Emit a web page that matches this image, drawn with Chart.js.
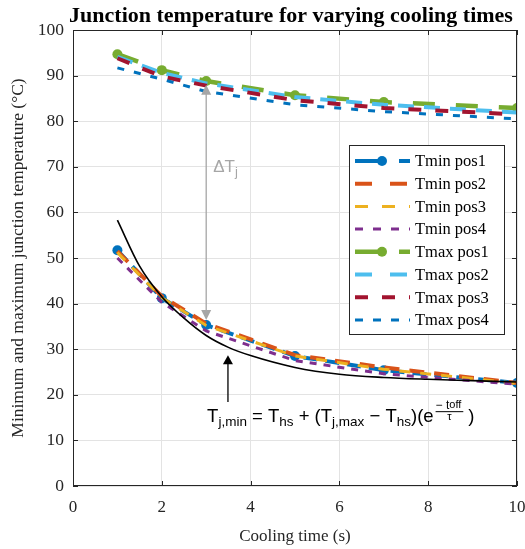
<!DOCTYPE html>
<html>
<head>
<meta charset="utf-8">
<script src="https://cdn.jsdelivr.net/npm/chart.js@4.4.1/dist/chart.umd.min.js"></script>
<style>
  html, body { margin: 0; padding: 0; background: #fff; }
  #wrap { width: 525px; height: 549px; }
</style>
</head>
<body>
<div id="wrap"><canvas id="tjChart"></canvas></div>
<script>
// cooling times where temperatures were evaluated (s)
const coolingTimes = [1, 2, 3, 5, 7, 10];

const tminPos1 = [51.7, 41.2, 35.3, 28.5, 25.4, 22.6];
const tminPos2 = [51.5, 41.6, 35.6, 28.7, 26.0, 22.6];
const tminPos3 = [51.2, 41.3, 35.2, 28.5, 25.6, 22.5];
const tminPos4 = [50.0, 40.3, 34.0, 27.5, 24.6, 22.3];

const tmaxPos1 = [94.7, 91.2, 88.8, 85.7, 84.2, 82.9];
const tmaxPos2 = [94.1, 90.6, 88.3, 85.3, 83.6, 81.9];
const tmaxPos3 = [93.8, 89.8, 87.8, 84.6, 82.9, 81.5];
const tmaxPos4 = [91.7, 89.2, 86.5, 83.6, 82.1, 80.5];

// fitted exponential curve
const fitTimes = [1, 1.5, 2, 2.5, 3, 3.5, 4, 5, 6, 7, 8, 9, 10];
const fitTmin  = [58.3, 48.2, 41.5, 36.8, 33.0, 30.4, 28.6, 26.0, 24.5, 23.8, 23.4, 23.1, 22.8];

const xTicks = [0, 2, 4, 6, 8, 10];
const yTicks = [0, 10, 20, 30, 40, 50, 60, 70, 80, 90, 100];

const seriesNames = ['Tmin pos1', 'Tmin pos2', 'Tmin pos3', 'Tmin pos4',
                     'Tmax pos1', 'Tmax pos2', 'Tmax pos3', 'Tmax pos4'];
const seriesValues = [tminPos1, tminPos2, tminPos3, tminPos4,
                      tmaxPos1, tmaxPos2, tmaxPos3, tmaxPos4];

// annotations (data units)
const deltaArrow = { x: 3, yTop: 88.0, yBottom: 36.4 };
const deltaLabel = { x: 3.45, y: 68.9 };
const fitArrow = { x: 3.49, yTip: 28.7, yTail: 18.4 };
const formulaPos = { x: 3.02, y: 14.0 };

const colors = ['#0072BD', '#D95319', '#EDB120', '#7E2F8E',
                '#77AC30', '#4DBEEE', '#A2142F', '#0072BD'];
const widths = [4, 4, 3, 3, 4.5, 4, 4, 3];
const dashes = [[14, 8], [15, 10], [11, 10], [7, 7],
                [22, 21], [16, 10], [13, 14], [7, 10]];
const legendDashes = [[30, 14], [17, 18], [13, 14], [8, 10],
                      [30, 14], [17, 18], [13, 14], [8, 10]];
const hasMarker = [true, false, false, false, true, false, false, false];

const SERIF = '"Liberation Serif", "Times New Roman", serif';
const SANS = '"Liberation Sans", Arial, Helvetica, sans-serif';

const datasets = seriesValues.map((vals, i) => ({
    label: seriesNames[i],
    data: coolingTimes.map((t, k) => ({ x: t, y: vals[k] })),
    borderColor: colors[i],
    backgroundColor: colors[i],
    borderWidth: widths[i],
    borderDash: dashes[i],
    pointRadius: hasMarker[i] ? 5 : 0,
    pointBorderWidth: 0,
    pointStyle: 'circle',
    tension: 0,
    order: 20 - i
}));

datasets.push({
    label: 'fit',
    data: fitTimes.map((t, k) => ({ x: t, y: fitTmin[k] })),
    borderColor: '#000000',
    borderWidth: 1.6,
    pointRadius: 0,
    cubicInterpolationMode: 'monotone',
    order: 0
});

function arrowHead(ctx, x, y, dir, w, h, color) {
    ctx.beginPath();
    ctx.moveTo(x, y);
    ctx.lineTo(x - w / 2, y - dir * h);
    ctx.lineTo(x + w / 2, y - dir * h);
    ctx.closePath();
    ctx.fillStyle = color;
    ctx.fill();
}

// draw text pieces left to right: [text, size, dy]
function drawRuns(ctx, x, y, runs) {
    for (const r of runs) {
        ctx.font = r[1] + 'px ' + SANS;
        ctx.fillText(r[0], x, y + r[2]);
        x += ctx.measureText(r[0]).width;
    }
    return x;
}

const extras = {
    id: 'extras',
    afterDatasetsDraw(chart) {
        const ctx = chart.ctx;
        const xs = chart.scales.x, ys = chart.scales.y;
        const a = chart.chartArea;
        ctx.save();

        // box and inward ticks
        ctx.strokeStyle = '#262626';
        ctx.lineWidth = 1;
        ctx.setLineDash([]);
        ctx.strokeRect(a.left + 0.5, a.top + 0.5, a.right - a.left - 1, a.bottom - a.top - 1);
        ctx.beginPath();
        xTicks.forEach(v => {
            const px = Math.round(xs.getPixelForValue(v)) + 0.5;
            ctx.moveTo(px, a.bottom); ctx.lineTo(px, a.bottom - 5);
            ctx.moveTo(px, a.top); ctx.lineTo(px, a.top + 5);
        });
        yTicks.forEach(v => {
            const py = Math.round(ys.getPixelForValue(v)) + 0.5;
            ctx.moveTo(a.left, py); ctx.lineTo(a.left + 5, py);
            ctx.moveTo(a.right, py); ctx.lineTo(a.right - 5, py);
        });
        ctx.stroke();

        // delta Tj arrow
        const gx = xs.getPixelForValue(deltaArrow.x);
        const gTop = ys.getPixelForValue(deltaArrow.yTop);
        const gBot = ys.getPixelForValue(deltaArrow.yBottom);
        ctx.strokeStyle = '#a6a6a6';
        ctx.lineWidth = 1.3;
        ctx.beginPath();
        ctx.moveTo(gx, gTop + 8); ctx.lineTo(gx, gBot - 8);
        ctx.stroke();
        arrowHead(ctx, gx, gTop, -1, 10, 10, '#a6a6a6');
        arrowHead(ctx, gx, gBot, 1, 10, 10, '#a6a6a6');

        ctx.fillStyle = '#a6a6a6';
        ctx.textBaseline = 'alphabetic';
        ctx.textAlign = 'left';
        const lx = xs.getPixelForValue(deltaLabel.x) - 13;
        const ly = ys.getPixelForValue(deltaLabel.y);
        drawRuns(ctx, lx, ly, [['\u0394T', 17, 0], ['j', 13, 4]]);

        // fit arrow
        const bx = xs.getPixelForValue(fitArrow.x);
        const bTip = ys.getPixelForValue(fitArrow.yTip);
        const bTail = ys.getPixelForValue(fitArrow.yTail);
        ctx.strokeStyle = '#000';
        ctx.lineWidth = 1.3;
        ctx.beginPath();
        ctx.moveTo(bx, bTail); ctx.lineTo(bx, bTip + 8);
        ctx.stroke();
        arrowHead(ctx, bx, bTip, -1, 10, 9, '#000');

        // formula
        ctx.fillStyle = '#000';
        const fx = xs.getPixelForValue(formulaPos.x);
        const fy = ys.getPixelForValue(formulaPos.y);
        let cx = drawRuns(ctx, fx, fy, [
            ['T', 18.5, 0], ['j,min', 13.5, 4], [' = T', 18.5, 0], ['hs', 13.5, 4],
            [' + (T', 18.5, 0], ['j,max', 13.5, 4], [' \u2212 T', 18.5, 0], ['hs', 13.5, 4],
            [')(e', 18.5, 0]
        ]);
        // exponent fraction
        ctx.font = '12px ' + SANS;
        const numW = ctx.measureText('\u2212 t').width;
        ctx.font = '11px ' + SANS;
        const subW = ctx.measureText('off').width;
        const fracW = numW + subW + 2;
        const fracX = cx + 2;
        drawRuns(ctx, fracX, fy - 13, [['\u2212 t', 12, 0], ['off', 11, -1]]);
        ctx.fillRect(fracX, fy - 11, fracW, 1);
        ctx.font = '11px ' + SANS;
        ctx.textAlign = 'center';
        ctx.fillText('\u03C4', fracX + fracW / 2, fy - 2);
        ctx.textAlign = 'left';
        drawRuns(ctx, fracX + fracW + 5, fy, [[')', 18.5, 0]]);

        // title
        ctx.font = 'bold 22px ' + SERIF;
        ctx.textAlign = 'center';
        ctx.fillText('Junction temperature for varying cooling times', 291, 22);

        // legend
        const L = { x: 349, y: 145, w: 155, h: 189, row: 22.7 };
        ctx.fillStyle = '#fff';
        ctx.fillRect(L.x, L.y, L.w, L.h);
        ctx.strokeStyle = '#262626';
        ctx.lineWidth = 1;
        ctx.strokeRect(L.x + 0.5, L.y + 0.5, L.w, L.h);
        ctx.textAlign = 'left';
        ctx.textBaseline = 'middle';
        seriesNames.forEach((name, i) => {
            const ry = L.y + 16 + i * L.row;
            ctx.strokeStyle = colors[i];
            ctx.lineWidth = widths[i];
            ctx.setLineDash(legendDashes[i]);
            ctx.beginPath();
            ctx.moveTo(L.x + 6, ry); ctx.lineTo(L.x + 61, ry);
            ctx.stroke();
            ctx.setLineDash([]);
            if (hasMarker[i]) {
                ctx.beginPath();
                ctx.arc(L.x + 33, ry, 5, 0, Math.PI * 2);
                ctx.fillStyle = colors[i];
                ctx.fill();
            }
            ctx.fillStyle = '#000';
            ctx.font = '16.5px ' + SERIF;
            ctx.fillText(name, L.x + 66, ry + 1);
        });
        ctx.restore();
    }
};

new Chart(document.getElementById('tjChart'), {
    type: 'line',
    data: { datasets: datasets },
    options: {
        responsive: true,
        maintainAspectRatio: false,
        animation: false,
        layout: { padding: { top: 30, right: 8, left: 0, bottom: 0 } },
        plugins: {
            legend: { display: false },
            tooltip: { enabled: false },
            title: { display: false }
        },
        scales: {
            x: {
                type: 'linear',
                min: 0, max: 10,
                afterBuildTicks: s => { s.ticks = xTicks.map(v => ({ value: v })); },
                afterFit: s => { s.height = 63; s.paddingLeft = 0; s.paddingRight = 0; },
                ticks: { color: '#262626', font: { family: SERIF, size: 17 }, padding: 11 },
                grid: { color: '#e3e3e3', lineWidth: 1, drawTicks: false },
                border: { display: false },
                title: {
                    display: true, text: 'Cooling time (s)', color: '#262626',
                    font: { family: SERIF, size: 17 }, padding: { top: 0, bottom: 2 }
                }
            },
            y: {
                min: 0, max: 100,
                afterBuildTicks: s => { s.ticks = yTicks.map(v => ({ value: v })); },
                afterFit: s => { s.width = 73; s.paddingTop = 0; s.paddingBottom = 0; },
                ticks: { color: '#262626', font: { family: SERIF, size: 17.5 }, padding: 9 },
                grid: { color: '#e3e3e3', lineWidth: 1, drawTicks: false },
                border: { display: false },
                title: {
                    display: true, text: 'Minimum and maximum junction temperature (\u00B0C)', color: '#262626',
                    font: { family: SERIF, size: 17.5 }, padding: { top: 8, bottom: 0 }
                }
            }
        }
    },
    plugins: [extras]
});
</script>
</body>
</html>
